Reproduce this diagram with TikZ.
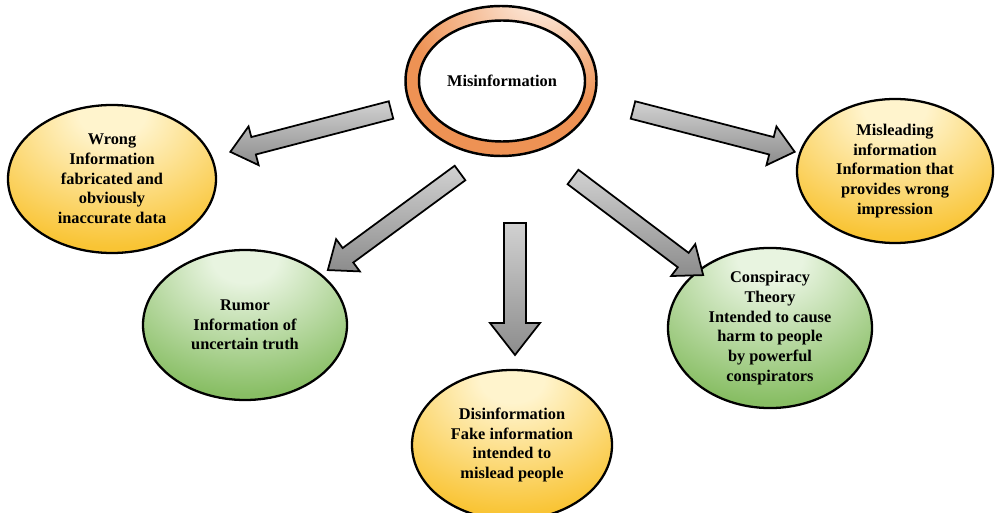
\documentclass[tikz,border=0pt]{standalone}
\usepackage{fontspec}
\setmainfont{Liberation Serif}
\usetikzlibrary{shapes.geometric}
\definecolor{goldedge}{RGB}{249,196,52}
\definecolor{goldlight}{RGB}{255,244,205}
\definecolor{greenedge}{RGB}{136,190,100}
\definecolor{greenlight}{RGB}{232,244,224}
\definecolor{orangeedge}{RGB}{238,146,84}
\definecolor{orangelight}{RGB}{252,230,214}
\pgfdeclareradialshading{yellowsh}{\pgfpoint{0bp}{24bp}}{color(0bp)=(goldlight); color(8bp)=(goldlight); color(38bp)=(goldedge); color(100bp)=(goldedge)}
\pgfdeclareradialshading{greensh}{\pgfpoint{0bp}{24bp}}{color(0bp)=(greenlight); color(8bp)=(greenlight); color(38bp)=(greenedge); color(100bp)=(greenedge)}
\pgfdeclareradialshading{orangesh}{\pgfpoint{12bp}{32bp}}{color(0bp)=(orangelight); color(6bp)=(orangelight); color(32bp)=(orangeedge); color(100bp)=(orangeedge)}
\tikzset{
  txt/.style={font=\bfseries\fontsize{9.3}{11.2}\selectfont, align=center, text=black},
  bubble/.style={ellipse, draw=black, line width=1.3pt, inner sep=0pt, txt},
  yellowbub/.style={bubble, shading=yellowsh},
  greenbub/.style={bubble, shading=greensh},
  barrowsty/.style={draw=black, line width=1pt, line join=miter, left color=black!18, right color=black!45, shading angle=0},
  pics/barrow/.style n args={4}{code={
    \path[barrowsty] (0,-#2) -- ({#1-#4},-#2) -- ({#1-#4},-#3) -- (#1,0) -- ({#1-#4},#3) -- ({#1-#4},#2) -- (0,#2) -- cycle;
  }}
}
\begin{document}
\begin{tikzpicture}[x=0.02cm,y=0.02cm]
\useasboundingbox (0,0) rectangle (997,-513);
\clip (0,0) rectangle (997,-513);
% central ring
\node[ellipse, draw=black, line width=1.4pt, minimum width=191*0.02cm, minimum height=150*0.02cm, inner sep=0pt, shading=orangesh] (ring) at (501,-81) {};
\node[ellipse, draw=black, line width=1.4pt, fill=white, minimum width=166*0.02cm, minimum height=121*0.02cm, inner sep=0pt, txt] (mis) at (502,-81) {Misinformation};
% outer bubbles
\node[yellowbub, minimum width=208*0.02cm, minimum height=148*0.02cm] (wrong) at (112,-179) {Wrong\\Information\\fabricated and\\obviously\\inaccurate data};
\node[yellowbub, minimum width=196*0.02cm, minimum height=144*0.02cm] (mislead) at (895,-171) {Misleading\\information\\Information that\\provides wrong\\impression};
\node[greenbub, minimum width=204*0.02cm, minimum height=150*0.02cm] (rumor) at (245,-325) {Rumor\\Information of\\uncertain truth};
\node[greenbub, minimum width=204*0.02cm, minimum height=150*0.02cm] (consp) at (770,-328) {Conspiracy\\Theory\\Intended to cause\\harm to people\\by powerful\\conspirators};
\node[yellowbub, minimum width=200*0.02cm, minimum height=150*0.02cm] (disinf) at (512,-445) {Disinformation\\Fake information\\intended to\\mislead people};
% arrows
\coordinate (t1) at (391,-110);
\coordinate (t2) at (633,-110);
\coordinate (t3) at (460,-173);
\coordinate (t4) at (573,-177);
\coordinate (t5) at (515,-223);
\pic[rotate=194.6] at (t1) {barrow={166}{9}{20}{24}};
\pic[rotate=-14.5] at (t2) {barrow={167}{9}{20}{24}};
\pic[rotate=216.3] at (t3) {barrow={164}{9}{20}{25}};
\pic[rotate=-37.0] at (t4) {barrow={163}{9}{20}{25}};
\pic[rotate=-90] at (t5) {barrow={132}{11}{25}{32}};
\end{tikzpicture}
\end{document}
